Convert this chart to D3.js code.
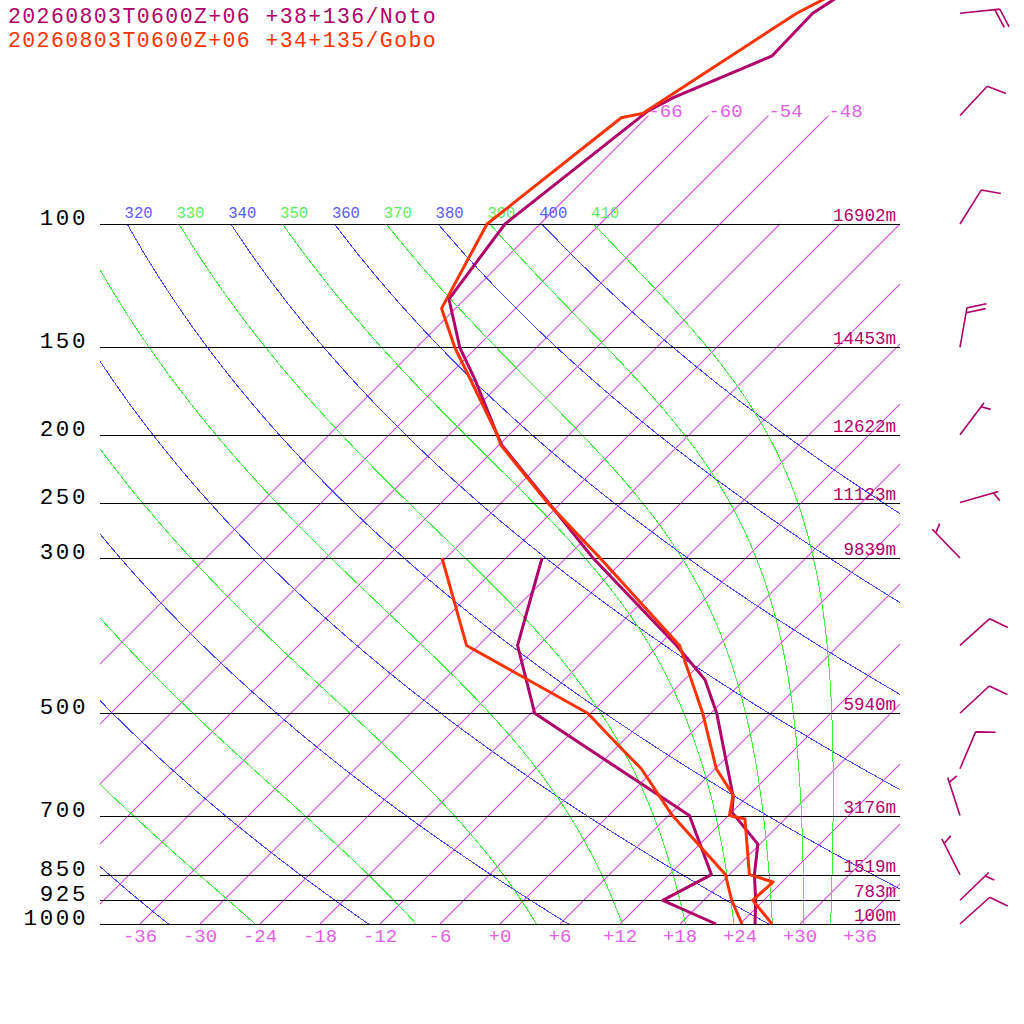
<!DOCTYPE html>
<html>
<head>
<meta charset="utf-8">
<script src="https://cdn.jsdelivr.net/npm/d3@7"></script>
<style>
  body { margin: 0; background: #fff; }
  text { font-family: "Liberation Mono", "DejaVu Sans Mono", monospace; }
</style>
</head>
<body>
<svg id="chart" width="1024" height="1024"></svg>
<script>
// Station labels
const stations = ["20260803T0600Z+06 +38+136/Noto", "20260803T0600Z+06 +34+135/Gobo"];

// Mandatory levels and their heights
const isobars = [100, 150, 200, 250, 300, 500, 700, 850, 925, 1000];
const isobarHeights = ["16902m", "14453m", "12622m", "11123m", "9839m", "5940m", "3176m", "1519m", "783m", "100m"];

// Background lines
const isotherms = [-66, -60, -54, -48, -42, -36, -30, -24, -18, -12, -6, 0, 6, 12, 18, 24, 30, 36, 42];
const upperIsotherms = [-66, -60, -54, -48];
const tempTicks = ["-36", "-30", "-24", "-18", "-12", "-6", "+0", "+6", "+12", "+18", "+24", "+30", "+36"];
const dryThetas = [240, 260, 280, 300, 320, 340, 360, 380, 400];
const moistThetas = [250, 270, 290, 310, 330, 350, 370, 390, 410];

// Noto sounding (hPa, degC)
const notoP = [1000, 925, 850, 769, 692, 658, 500, 448, 400, 300, 250, 207, 200, 167, 150, 128, 100, 69, 66, 57.5, 50, 30];
const notoT = [25.5, 23.2, 20.5, 17.8, 12.0, 10.6, 0.6, -3.9, -10.2, -27.3, -37.3, -47.7, -49.2, -56.9, -61.7, -67.6, -69.5, -66.5, -65.3, -59.6, -59.8, -51.5];
const notoTdP = [1000, 925, 850, 700, 500, 400, 300];
const notoTd = [21.6, 13.9, 16.2, 8.1, -17.6, -26.1, -32.4];

// Gobo sounding (hPa, degC)
const goboP = [1000, 925, 871, 850, 708, 700, 654, 600, 500, 400, 300, 250, 207, 200, 150, 132, 100, 70.5, 69.5, 50, 30];
const goboT = [27.2, 22.9, 23.1, 20.0, 14.0, 12.1, 10.4, 6.1, -0.8, -9.9, -26.6, -37.4, -47.8, -49.2, -62.2, -67.4, -71.3, -68.5, -66.8, -61.4, -47.1];
const goboTdP = [1000, 925, 850, 700, 600, 555, 500, 400, 300];
const goboTd = [24.2, 20.8, 17.6, 6.4, -1.4, -6.1, -12.3, -31.2, -42.4];

// Noto winds (hPa, direction deg, speed kt)
const windP = [50, 70, 100, 150, 200, 250, 300, 400, 500, 600, 700, 850, 925, 1000];
const windDir = [84, 43, 32, 10, 37, 74, 316, 48, 47, 23, 342, 333, 46, 48];
const windSpd = [20, 10, 10, 20, 5, 5, 5, 10, 10, 10, 5, 5, 5, 10];

const notoColor = "#b0006a";
const goboColor = "#ff3300";
const isoColor = "#dc4ae8";
const isoText = "#e060e8";
const dryColor = "#4848ff";
const moistColor = "#44ee44";

const svg = d3.select("#chart");

const y = d3.scaleLog().domain([1000, 100]).range([924, 224]);
const xT = d3.scaleLinear().domain([-40, 40]).range([100, 900]);
const skewX = (t, p) => xT(t) + (y(1000) - y(p));

const line = d3
  .line()
  .x((d) => skewX(d[1], d[0]))
  .y((d) => y(d[0]));

svg
  .append("defs")
  .append("clipPath")
  .attr("id", "plot")
  .append("rect")
  .attr("x", 100)
  .attr("y", 0)
  .attr("width", 800)
  .attr("height", 924);

const plot = svg.append("g").attr("clip-path", "url(#plot)");
const grid = plot.append("g").attr("fill", "none");

// Isotherms
const isoLevels = [1000, 850, 700, 500, 300, 200, 150, 100];
grid
  .selectAll(".isotherm")
  .data(isotherms)
  .join("path")
  .attr("class", "isotherm")
  .attr("d", (t) => {
    const ps = upperIsotherms.includes(t) ? isoLevels.concat([70]) : isoLevels;
    return line(ps.map((p) => [p, t]));
  })
  .attr("stroke", isoColor)
  .attr("stroke-width", 1.1);

plot
  .selectAll(".iso-label")
  .data(upperIsotherms)
  .join("text")
  .attr("class", "iso-label")
  .attr("x", (t) => skewX(t, 70))
  .attr("y", y(70) + 1)
  .attr("fill", isoText)
  .attr("font-size", 19)
  .text((t) => t);

// Dry adiabats
const kappa = 287.04 / 1005.7;
const pLevels = d3.range(100, 1001, 10);
const adiabats = plot.append("g").attr("fill", "none").style("shape-rendering", "crispEdges");
adiabats
  .selectAll(".dry")
  .data(dryThetas)
  .join("path")
  .attr("class", "dry")
  .attr("d", (th) => line(pLevels.map((p) => [p, th * Math.pow(p / 1000, kappa) - 273.15])))
  .attr("stroke", dryColor)
  .attr("stroke-width", 1);

// Moist adiabats, integrated down from 100 hPa
const es = (tc) => 6.112 * Math.exp((17.67 * tc) / (tc + 243.5));
const lapse = (p, tk) => {
  const e = es(tk - 273.15);
  const rs = (0.622 * e) / (p - e);
  return (287.04 * tk + 2.501e6 * rs) / (p * (1005.7 + (2.501e6 * 2.501e6 * rs * 0.622) / (287.04 * tk * tk)));
};
const moistCurve = (th) => {
  let p = 100;
  let t = th * Math.pow(p / 1000, kappa);
  const pts = [[p, t - 273.15]];
  const dp = 2;
  while (p < 1000) {
    const k1 = lapse(p, t);
    const k2 = lapse(p + dp / 2, t + (dp / 2) * k1);
    const k3 = lapse(p + dp / 2, t + (dp / 2) * k2);
    const k4 = lapse(p + dp, t + dp * k3);
    t += (dp * (k1 + 2 * k2 + 2 * k3 + k4)) / 6;
    p += dp;
    pts.push([p, t - 273.15]);
  }
  return pts;
};
adiabats
  .selectAll(".moist")
  .data(moistThetas)
  .join("path")
  .attr("class", "moist")
  .attr("d", (th) => line(moistCurve(th)))
  .attr("stroke", moistColor)
  .attr("stroke-width", 1);

// Adiabat labels along 100 hPa
const thetaLabels = dryThetas
  .map((th) => ({ th, c: "#5a5aff" }))
  .concat(moistThetas.map((th) => ({ th, c: "#5cee5c" })))
  .filter((d) => d.th >= 310);
plot
  .selectAll(".theta-label")
  .data(thetaLabels)
  .join("text")
  .attr("class", "theta-label")
  .attr("x", (d) => skewX(d.th * Math.pow(0.1, kappa) - 273.15, 100) - 2.5)
  .attr("y", y(100) - 6)
  .attr("fill", (d) => d.c)
  .attr("font-size", 15.6)
  .text((d) => d.th);

// Isobars
svg
  .selectAll(".isobar")
  .data(isobars)
  .join("line")
  .attr("class", "isobar")
  .attr("x1", 100)
  .attr("x2", 900)
  .attr("y1", (p) => Math.round(y(p)) + 0.5)
  .attr("y2", (p) => Math.round(y(p)) + 0.5)
  .attr("stroke", "#000")
  .attr("stroke-width", 1.2);

svg
  .selectAll(".p-label")
  .data(isobars)
  .join("text")
  .attr("class", "p-label")
  .attr("x", 88)
  .attr("y", (p) => y(p) + 1)
  .attr("text-anchor", "end")
  .attr("font-family", "'Liberation Sans', sans-serif")
  .attr("font-size", 22.5)
  .attr("letter-spacing", 2.6)
  .attr("fill", "#000")
  .text((p) => p);

svg
  .selectAll(".h-label")
  .data(isobars)
  .join("text")
  .attr("class", "h-label")
  .attr("x", 896)
  .attr("y", (p) => y(p) - 3)
  .attr("text-anchor", "end")
  .attr("font-size", 17.5)
  .attr("fill", notoColor)
  .text((p, i) => isobarHeights[i]);

svg
  .selectAll(".t-label")
  .data(tempTicks)
  .join("text")
  .attr("class", "t-label")
  .attr("x", (d) => xT(+d))
  .attr("y", 942)
  .attr("text-anchor", "middle")
  .attr("font-size", 19)
  .attr("fill", isoText)
  .text((d) => d);

// Soundings
const zip = (ps, ts) => ps.map((p, i) => [p, ts[i]]);
const profiles = [
  { d: zip(notoP, notoT), c: notoColor },
  { d: zip(notoTdP, notoTd), c: notoColor },
  { d: zip(goboP, goboT), c: goboColor },
  { d: zip(goboTdP, goboTd), c: goboColor },
];
svg
  .selectAll(".profile")
  .data(profiles)
  .join("path")
  .attr("class", "profile")
  .attr("d", (s) => line(s.d))
  .attr("fill", "none")
  .attr("stroke", (s) => s.c)
  .attr("stroke-width", 3)
  .attr("stroke-linejoin", "round");

// Wind barbs
const rad = Math.PI / 180;
const barbPath = (p, i) => {
  const bx = 960;
  const by = y(p);
  const ux = Math.sin(windDir[i] * rad);
  const uy = -Math.cos(windDir[i] * rad);
  const tx = bx + 40 * ux;
  const ty = by + 40 * uy;
  const a = Math.atan2(uy, ux) + 68 * rad;
  const nFull = Math.floor(windSpd[i] / 10);
  const half = windSpd[i] % 10 >= 5;
  let path = `M${bx},${by}L${tx},${ty}`;
  let k = nFull === 0 ? 1 : 0;
  for (let j = 0; j < nFull; j++, k++) {
    path += `M${tx - k * 5 * ux},${ty - k * 5 * uy}l${20 * Math.cos(a)},${20 * Math.sin(a)}`;
  }
  if (half) {
    path += `M${tx - k * 5 * ux},${ty - k * 5 * uy}l${10 * Math.cos(a)},${10 * Math.sin(a)}`;
  }
  return path;
};
svg
  .append("g")
  .selectAll("path")
  .data(windP)
  .join("path")
  .attr("d", barbPath)
  .attr("fill", "none")
  .attr("stroke", notoColor)
  .attr("stroke-width", 1.6);

// Legend
svg
  .selectAll(".legend")
  .data(stations)
  .join("text")
  .attr("class", "legend")
  .attr("x", 8)
  .attr("y", (d, i) => 23 + i * 24)
  .attr("font-size", 21.5)
  .attr("letter-spacing", 1.4)
  .attr("fill", (d, i) => (i === 0 ? notoColor : goboColor))
  .text((d) => d);
</script>
</body>
</html>
